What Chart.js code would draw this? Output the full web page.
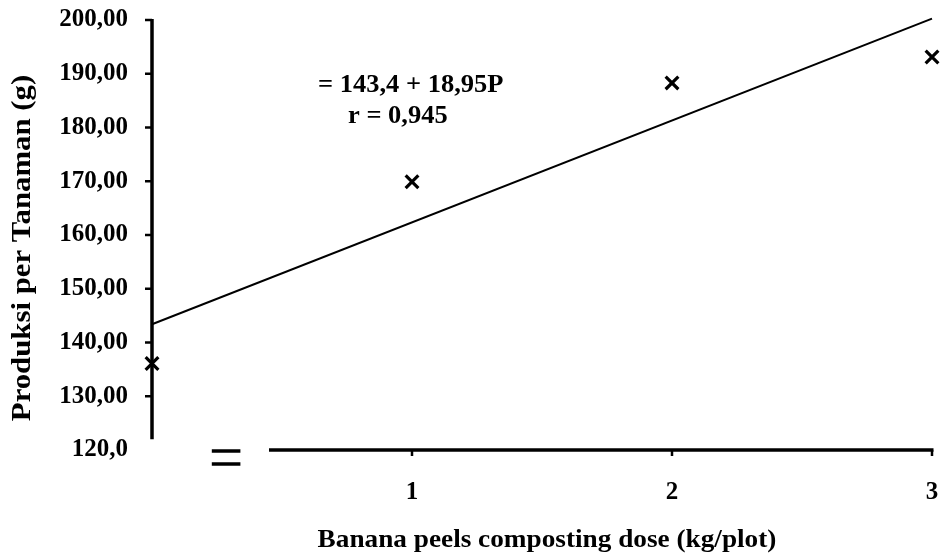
<!DOCTYPE html>
<html>
<head>
<meta charset="utf-8">
<title>Produksi per Tanaman</title>
<script src="https://cdn.jsdelivr.net/npm/chart.js@4.4.1/dist/chart.umd.min.js"></script>
<style>
  html, body { margin: 0; padding: 0; background: #fff; }
  #wrap { width: 941px; height: 558px; position: relative; }
</style>
</head>
<body>
<div id="wrap"><canvas id="chart"></canvas></div>
<script>
// Data
const doses = [0, 1, 2, 3];
const production = [136.1, 169.9, 188.3, 193.1];

// Regression line Y = 143,4 + 18,95P, end points at P = 0 and P = 3
const fitDoses = [0, 3];
const fitValues = [143.4, 200.25];

// Tick labels
const yTickValues = [120, 130, 140, 150, 160, 170, 180, 190, 200];
const yTickLabels = ['120,0', '130,00', '140,00', '150,00', '160,00', '170,00', '180,00', '190,00', '200,00'];
const xTickLabels = ['', '1', '2', '3'];

// Texts
const equationLines = ['= 143,4 + 18,95P', 'r = 0,945'];
const yTitle = 'Produksi per Tanaman (g)';
const xTitle = 'Banana peels composting dose (kg/plot)';

const FONT = '"Liberation Serif", "Times New Roman", serif';

// the original font runs a bit wider than Liberation Serif
function wideText(ctx, text, x, y, stretch, rotate) {
  ctx.save();
  ctx.translate(x, y);
  if (rotate) ctx.rotate(-Math.PI / 2);
  ctx.scale(stretch, 1);
  ctx.fillText(text, 0, 0);
  ctx.restore();
}

// Draws the broken axes, tick marks, the titles and the equation
const brokenAxes = {
  id: 'brokenAxes',
  afterDraw(chart) {
    const ctx = chart.ctx;
    const x = chart.scales.x;
    const y = chart.scales.y;
    const left = x.getPixelForValue(0);
    const base = y.getPixelForValue(120);

    ctx.save();
    ctx.strokeStyle = '#000';
    ctx.lineCap = 'butt';

    // y axis stops short of the x axis
    ctx.lineWidth = 3.5;
    ctx.beginPath();
    ctx.moveTo(left, y.getPixelForValue(200) - 1);
    ctx.lineTo(left, y.getPixelForValue(122));
    ctx.stroke();

    // y tick marks, outside
    ctx.lineWidth = 2.5;
    yTickValues.forEach(v => {
      if (v === 120) return;
      const py = y.getPixelForValue(v);
      ctx.beginPath();
      ctx.moveTo(left - 7, py);
      ctx.lineTo(left, py);
      ctx.stroke();
    });

    // x axis starts after the break
    ctx.lineWidth = 3.5;
    ctx.beginPath();
    ctx.moveTo(x.getPixelForValue(0.45), base);
    ctx.lineTo(x.getPixelForValue(3) + 1.5, base);
    ctx.stroke();

    // x tick marks, pointing down
    ctx.lineWidth = 2.5;
    doses.forEach(v => {
      if (v === 0) return;
      const px = x.getPixelForValue(v);
      ctx.beginPath();
      ctx.moveTo(px, base);
      ctx.lineTo(px, base + 6);
      ctx.stroke();
    });

    // break mark "="
    ctx.lineWidth = 3.5;
    const b0 = x.getPixelForValue(0.23);
    const b1 = x.getPixelForValue(0.34);
    [base + 1, base + 14].forEach(py => {
      ctx.beginPath();
      ctx.moveTo(b0, py);
      ctx.lineTo(b1, py);
      ctx.stroke();
    });

    ctx.fillStyle = '#000';
    ctx.textBaseline = 'alphabetic';
    ctx.textAlign = 'center';

    // axis titles
    ctx.font = 'bold 27px ' + FONT;
    wideText(ctx, yTitle, 30, 248, 1.14, true);
    ctx.font = 'bold 25px ' + FONT;
    wideText(ctx, xTitle, 547, 547, 1.09, false);

    // regression equation
    ctx.textAlign = 'left';
    ctx.font = 'bold 25px ' + FONT;
    wideText(ctx, equationLines[0], 318, 92, 1.06, false);
    wideText(ctx, equationLines[1], 348, 123, 1.06, false);
    ctx.restore();
  }
};

const ctx = document.getElementById('chart').getContext('2d');
new Chart(ctx, {
  type: 'scatter',
  data: {
    datasets: [
      {
        label: 'Regresi',
        type: 'line',
        data: fitDoses.map((d, i) => ({ x: d, y: fitValues[i] })),
        borderColor: '#000',
        borderWidth: 2,
        pointRadius: 0,
        fill: false,
        clip: false
      },
      {
        label: 'Produksi',
        data: doses.map((d, i) => ({ x: d, y: production[i] })),
        pointStyle: 'crossRot',
        pointRadius: 9,
        pointBorderWidth: 3.2,
        borderColor: '#000',
        backgroundColor: '#000',
        clip: false
      }
    ]
  },
  options: {
    responsive: true,
    maintainAspectRatio: false,
    animation: false,
    layout: { autoPadding: false, padding: { top: 20, right: 9, bottom: 0, left: 0 } },
    plugins: {
      legend: { display: false },
      tooltip: { enabled: false }
    },
    scales: {
      x: {
        type: 'linear',
        min: 0,
        max: 3,
        grid: { display: false, drawTicks: false },
        border: { display: false },
        ticks: {
          stepSize: 1,
          padding: 28,
          color: '#000',
          font: { family: FONT, size: 25, weight: 'bold' },
          callback: (v, i) => xTickLabels[i]
        },
        afterFit: s => {
          s.height = 108;
          s.paddingLeft = s.paddingRight = 0;
        }
      },
      y: {
        type: 'linear',
        min: 120,
        max: 200,
        grid: { display: false, drawTicks: false },
        border: { display: false },
        ticks: {
          stepSize: 10,
          padding: 24,
          color: '#000',
          font: { family: FONT, size: 25, weight: 'bold' },
          callback: v => yTickLabels[yTickValues.indexOf(v)]
        },
        afterFit: s => {
          s.width = 152;
          s.paddingTop = s.paddingBottom = 0;
        }
      }
    }
  },
  plugins: [brokenAxes]
});
</script>
</body>
</html>
